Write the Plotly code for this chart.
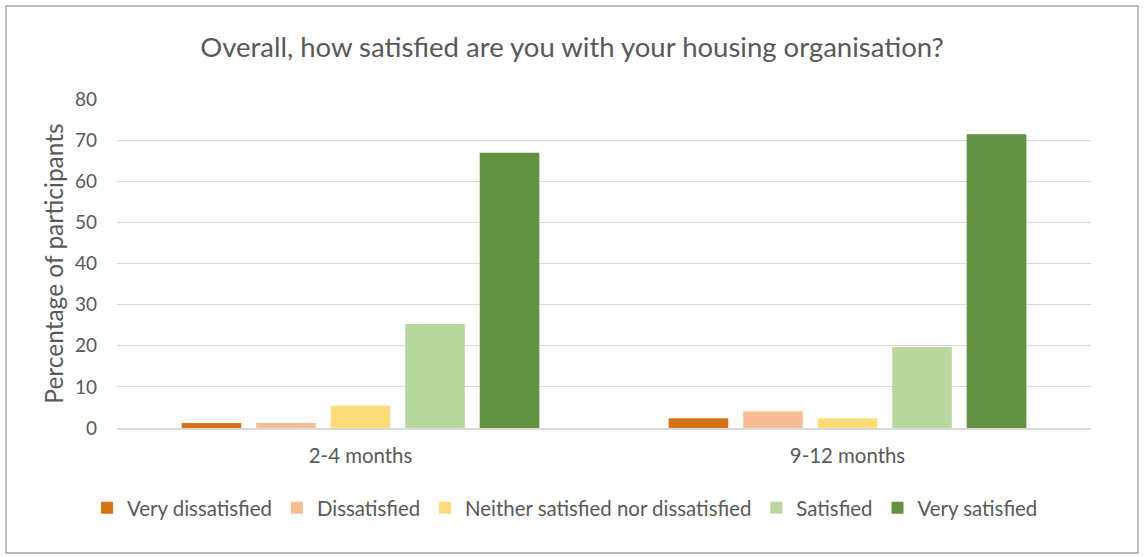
import plotly.graph_objects as go

categories = ["2-4 months", "9-12 months"]
series_names = ["Very dissatisfied", "Dissatisfied", "Neither satisfied nor dissatisfied",
                "Satisfied", "Very satisfied"]
values = {
    "Very dissatisfied": [1.2, 2.4],
    "Dissatisfied": [1.2, 4.1],
    "Neither satisfied nor dissatisfied": [5.4, 2.4],
    "Satisfied": [25.3, 19.7],
    "Very satisfied": [66.9, 71.4],
}
colors = ["#D47316", "#F8BD97", "#FFDC7A", "#B9D8A0", "#629142"]
y_ticks = [0, 10, 20, 30, 40, 50, 60, 70, 80]

FONT = "Lato"
TXT = "#595959"

fig = go.Figure()
for name, c in zip(series_names, colors):
    fig.add_trace(go.Bar(name=name, x=categories, y=values[name], marker_color=c,
                         marker_line_width=0))

L, R, T, B = 117, 1091, 99, 428
W, H = 1144, 557
pw, ph = R - L, B - T

fig.update_layout(
    width=W, height=H,
    margin=dict(l=L, r=W - R, t=T, b=H - B, autoexpand=False),
    paper_bgcolor="white", plot_bgcolor="white",
    barmode="group", bargap=0.235, bargroupgap=0.2,
    font=dict(family=FONT, color=TXT),
    title=dict(text="Overall, how satisfied are you with your housing organisation?",
               x=0.5, xanchor="center", y=1 - 47 / H, yanchor="middle",
               font=dict(size=27.5, color=TXT, family=FONT)),
    yaxis=dict(range=[0, 80], tickvals=y_ticks, showgrid=True, gridcolor="#D9D9D9",
               gridwidth=1.3, zeroline=False, showline=False, ticks="",
               tickfont=dict(size=19, color=TXT), ticklabelstandoff=19,
               title=dict(text="Percentage of participants", font=dict(size=24.5, color=TXT),
                          standoff=4)),
    xaxis=dict(showline=True, linecolor="#D9D9D9", linewidth=2, ticks="",
               tickfont=dict(size=20.4, color=TXT), showgrid=False, ticklabelstandoff=9),
    legend=dict(orientation="h", x=0.46, xanchor="center", y=-(508 - B) / ph,
                yanchor="middle", font=dict(size=20.4, color=TXT), itemwidth=30,
                traceorder="normal", tracegroupgap=0),
    showlegend=True,
)
fig.add_shape(type="rect", xref="paper", yref="paper",
              x0=(6 - L) / pw, x1=(1138 - L) / pw, y0=(B - 553) / ph, y1=(B - 6) / ph,
              line=dict(color="#A6A6A6", width=1.5), fillcolor="rgba(0,0,0,0)", layer="below")

fig.write_html("out.html", config={"displayModeBar": False},
               post_script="document.body.style.margin='0';")
